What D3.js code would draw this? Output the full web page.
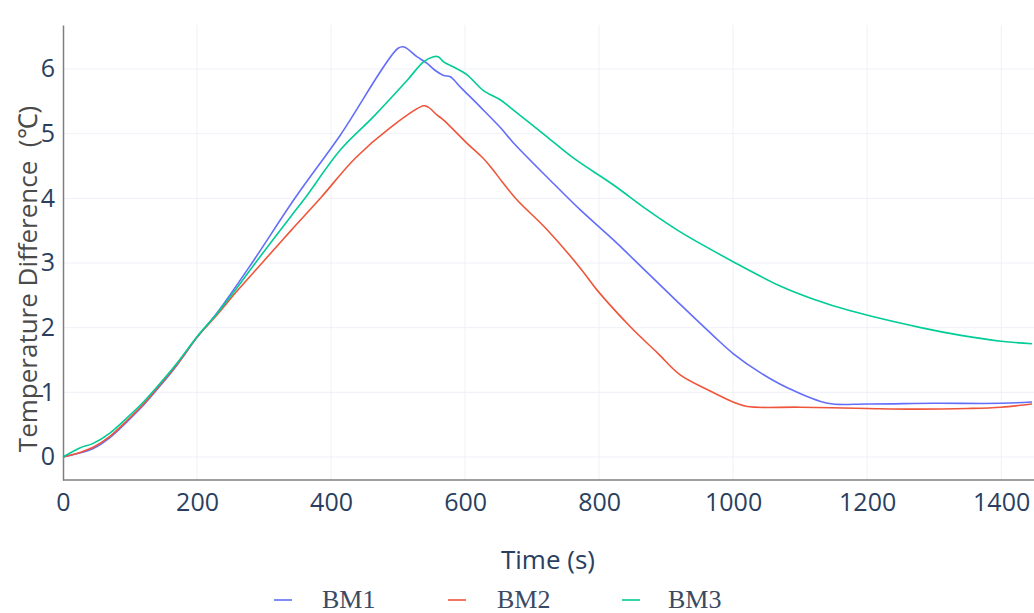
<!DOCTYPE html>
<html><head><meta charset="utf-8">
<script src="https://cdn.jsdelivr.net/npm/d3@7"></script>
<style>body{margin:0;background:#fff}svg{display:block}</style>
</head><body>
<svg id="c" width="1034" height="613"></svg>
<script>
const bm1Time = [0,25,45,70,95,120,145,170,200,230,282,346,414,500,509,528,543,555,568,578,593,623,653,672,727,772,821,872,921,971,1000,1041,1081,1141,1200,1300,1400,1446];
const bm1Value = [0,0.06,0.13,0.3,0.54,0.8,1.1,1.42,1.85,2.23,3.0,4.0,4.98,6.32,6.34,6.19,6.09,5.98,5.9,5.88,5.72,5.41,5.09,4.86,4.28,3.82,3.36,2.85,2.36,1.87,1.6,1.3,1.07,0.83,0.82,0.83,0.83,0.85];
const bm2Time = [0,25,45,70,95,120,145,170,200,230,260,297,340,384,436,488,538,545,558,568,603,627,641,655,678,720,772,797,847,887,921,962,1000,1021,1100,1200,1270,1350,1400,1446];
const bm2Value = [0,0.07,0.15,0.32,0.56,0.82,1.12,1.43,1.85,2.2,2.57,3.0,3.5,4.0,4.62,5.09,5.43,5.41,5.29,5.21,4.85,4.62,4.45,4.26,3.97,3.54,2.92,2.58,2.01,1.61,1.27,1.04,0.85,0.78,0.77,0.75,0.74,0.75,0.77,0.82];
const bm3Time = [0,25,45,70,95,120,145,170,200,230,260,287,340,361,414,463,514,538,553,560,568,583,603,627,653,668,720,762,821,872,921,1000,1071,1120,1175,1280,1340,1400,1446];
const bm3Value = [0,0.14,0.21,0.37,0.6,0.85,1.14,1.45,1.86,2.22,2.62,3.0,3.72,4.0,4.75,5.26,5.83,6.11,6.19,6.19,6.11,6.03,5.91,5.67,5.52,5.4,4.97,4.62,4.21,3.82,3.48,3.02,2.64,2.44,2.26,2.0,1.88,1.79,1.75];
const seriesNames = ["BM1","BM2","BM3"];
const seriesColors = ["#636efa","#EF553B","#00cc96"];
const xTicks = [0,200,400,600,800,1000,1200,1400];
const yTicks = [0,1,2,3,4,5,6];

const series = [
  {name: seriesNames[0], color: seriesColors[0], t: bm1Time, v: bm1Value},
  {name: seriesNames[1], color: seriesColors[1], t: bm2Time, v: bm2Value},
  {name: seriesNames[2], color: seriesColors[2], t: bm3Time, v: bm3Value}
];

const svg = d3.select("#c");
const L = 63, R = 1032, T = 25, B = 480;
const x = d3.scaleLinear().domain([0, 1446]).range([L, R]);
const y = d3.scaleLinear().domain([-0.356, 6.68]).range([B, T]);

// grid
svg.append("g").selectAll("line").data(xTicks.slice(1)).join("line")
  .attr("x1", d => x(d)).attr("x2", d => x(d)).attr("y1", T).attr("y2", B)
  .attr("stroke", "#eef1f7").attr("stroke-width", 1);
svg.append("g").selectAll("line").data(yTicks).join("line")
  .attr("x1", L).attr("x2", 1034).attr("y1", d => y(d)).attr("y2", d => y(d))
  .attr("stroke", "#eef1f7").attr("stroke-width", 1);

// axes
const xAxis = svg.append("g").attr("transform", `translate(0,${B})`)
  .call(d3.axisBottom(x).tickValues(xTicks).tickFormat(d3.format("d")).tickSize(0).tickPadding(13));
xAxis.select(".domain").attr("stroke", "#7f7f7f").attr("stroke-width", 1.5).attr("d", `M${L},0H1034`);
xAxis.selectAll("text").attr("font-family", "'Open Sans', sans-serif").attr("font-size", 25).attr("fill", "#2a3f5f");

const yAxis = svg.append("g").attr("transform", `translate(${L},0)`)
  .call(d3.axisLeft(y).tickValues(yTicks).tickFormat(d3.format("d")).tickSize(0).tickPadding(8));
yAxis.select(".domain").attr("stroke", "#7f7f7f").attr("stroke-width", 1.5);
yAxis.selectAll("text").attr("font-family", "'Open Sans', sans-serif").attr("font-size", 25).attr("fill", "#2a3f5f");

// lines
const line = d3.line().x(d => x(d[0])).y(d => y(d[1])).curve(d3.curveCatmullRom.alpha(0.5));
series.forEach(s => {
  svg.append("path").datum(s.t.map((t, i) => [t, s.v[i]]))
    .attr("d", line).attr("fill", "none").attr("stroke", s.color).attr("stroke-width", 1.6)
    .attr("stroke-linejoin", "round");
});

// titles
svg.append("text").attr("x", 548).attr("y", 569).attr("text-anchor", "middle")
  .attr("font-family", "'Open Sans', sans-serif").attr("font-size", 26).attr("fill", "#2a3f5f").text("Time (s)");
svg.append("text").attr("transform", "translate(37,279) rotate(-90)").attr("text-anchor", "middle")
  .attr("font-family", "'Open Sans', sans-serif").attr("font-size", 26).attr("fill", "#4a4a4a")
  .text("Temperature Difference\u00a0\u00a0(℃)");

// legend
const legX = [274, 448, 622];
const legTextX = [322, 497, 668];
series.forEach((s, i) => {
  svg.append("line").attr("x1", legX[i]).attr("x2", legX[i] + 18).attr("y1", 600).attr("y2", 600)
    .attr("stroke", s.color).attr("stroke-width", 1.6);
  svg.append("text").attr("x", legTextX[i]).attr("y", 608)
    .attr("font-family", "'Liberation Serif', 'Times New Roman', serif").attr("font-size", 26).attr("fill", "#3b4a63")
    .text(s.name);
});
</script>
</body></html>
